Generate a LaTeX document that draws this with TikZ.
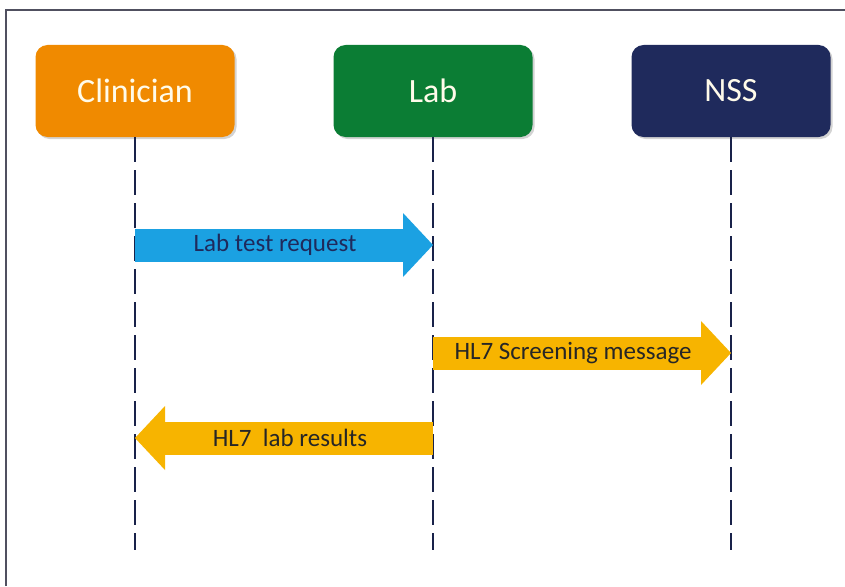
\documentclass[tikz,border=0pt]{standalone}
\usepackage{fontspec}
\setmainfont{Carlito}
\usetikzlibrary{arrows.meta,shadows}

\definecolor{clinorange}{HTML}{F08A00}
\definecolor{labgreen}{HTML}{0B7D34}
\definecolor{nssblue}{HTML}{1F2A5C}
\definecolor{reqblue}{HTML}{1BA1E2}
\definecolor{hlyellow}{HTML}{F7B400}
\definecolor{framegray}{HTML}{505060}
\definecolor{boxtext}{HTML}{FFFBEA}

\begin{document}
\begin{tikzpicture}[x=1pt,y=-1pt]
            \tikzstyle{actor}=[rounded corners=12pt,minimum width=199pt,minimum height=92pt,text=boxtext,font=\fontsize{34}{38}\selectfont,node distance=298pt,drop shadow={shadow xshift=2pt,shadow yshift=-2pt,opacity=.35}]
            \tikzstyle{lifeline}=[nssblue!80!black,line width=2pt,dash pattern=on 25pt off 8pt]
            \tikzstyle{msg}=[line width=33pt,-{Triangle[width=64pt,length=30pt,line width=0pt]}]
            \tikzstyle{msg text}=[font=\fontsize{25}{29}\selectfont]

            \useasboundingbox (0,0) rectangle (845,586);
            \draw[framegray,line width=1.5pt] (6,586) -- (6,10) -- (845,10);

            \node[actor,fill=clinorange] (clin) at (135,91) {Clinician};
            \node[actor,fill=labgreen] (lab) [right of=clin] {Lab};
            \node[actor,fill=nssblue] (nss) [right of=lab] {NSS};

            \coordinate (bot) at (0,550);
            \draw[lifeline] (clin.south) -- (clin.south |- bot);
            \draw[lifeline] (lab.south) -- (lab.south |- bot);
            \draw[lifeline] (nss.south) -- (nss.south |- bot);

            \draw[msg,reqblue] (clin |- 0,245) -- (lab |- 0,245) node[msg text,text=nssblue,pos=0.47] (req) {Lab test request};
            \draw[msg,hlyellow] (lab |- 0,353) -- (nss |- 0,353) node[msg text,text=black!85,pos=0.47] (scr) {HL7 Screening message};
            \draw[msg,hlyellow] (lab |- 0,438) -- (clin |- 0,438) node[msg text,text=black!85,pos=0.48] (res) {HL7\ \ lab results};
        \end{tikzpicture}
\end{document}
